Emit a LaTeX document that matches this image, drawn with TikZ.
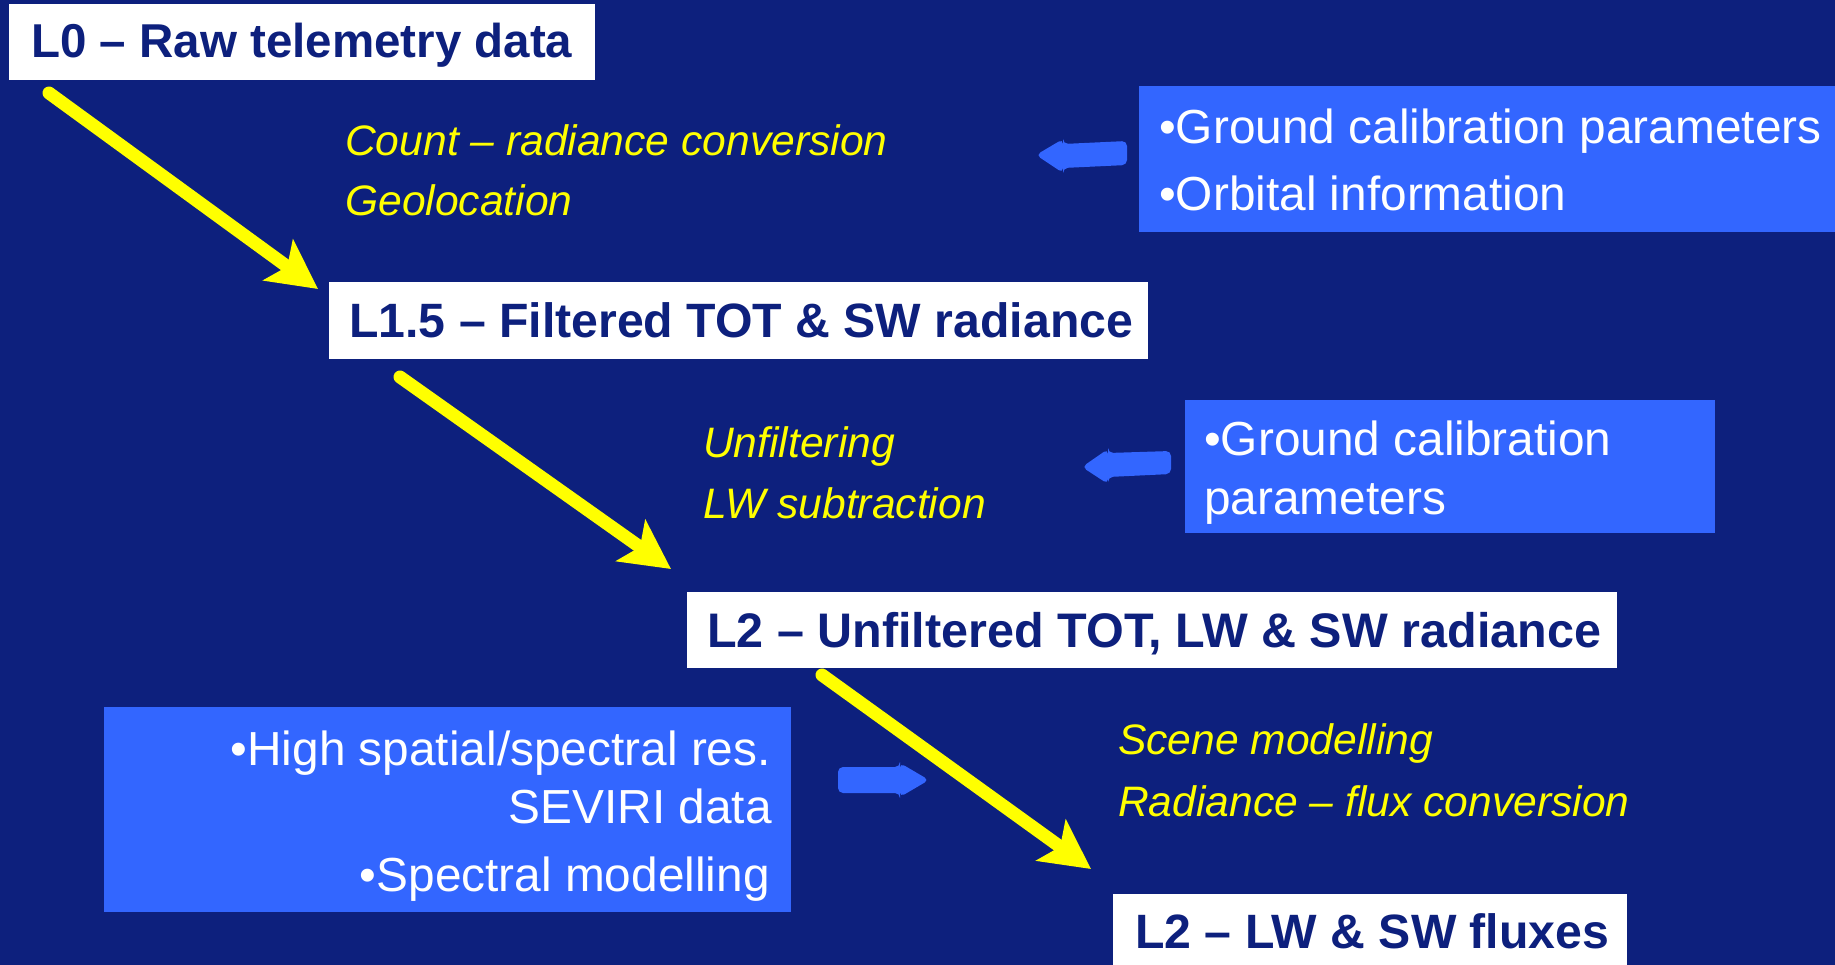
\documentclass[tikz,border=0pt]{standalone}
\usepackage{fontspec}
\setmainfont{Liberation Sans}
\usetikzlibrary{arrows.meta}
\definecolor{navy}{HTML}{0D207D}
\definecolor{lblue}{HTML}{3366FF}
\definecolor{yel}{HTML}{FFFF00}
\begin{document}
\begin{tikzpicture}[x=1pt,y=-1pt,
 wbox/.style={fill=white, inner sep=0pt, anchor=north west},
 bbox/.style={fill=lblue, inner sep=0pt, anchor=north west},
 title/.style={text=navy, font=\fontsize{48.2}{57}\selectfont\bfseries, inner sep=0pt, anchor=base west},
 wtext/.style={text=white, font=\fontsize{47.8}{57}\selectfont, inner sep=0pt},
 ytext/.style={text=yel, font=\fontsize{42.6}{50}\selectfont\itshape, inner sep=0pt, anchor=base west},
 yarrow/.style={draw=yel, line width=13pt, line cap=round, -{Stealth[length=49pt,width=50pt,inset=11pt]}},
 barrow/.style={fill=lblue, rounded corners=5pt}]
\fill[navy] (0,0) rectangle (1835,965);
\useasboundingbox (0,0) rectangle (1835,965);

% white level boxes
\node[wbox, minimum width=586pt, minimum height=76pt] (L0) at (9,4) {};
\node[wbox, minimum width=819pt, minimum height=77pt] (L15) at (329,282) {};
\node[wbox, minimum width=930pt, minimum height=76pt] (L2u) at (687,592) {};
\node[wbox, minimum width=514pt, minimum height=71pt] (L2f) at (1113,894) {};

\node[title, font=\fontsize{47.5}{57}\selectfont\bfseries] (L0t) at (31,58) {L0 – Raw telemetry data};
\node[title] (L15t) at (349,337.5) {L1.5 – Filtered TOT \& SW radiance};
\node[title, font=\fontsize{48.5}{57}\selectfont\bfseries] (L2ut) at (707,647) {L2 – Unfiltered TOT, LW \& SW radiance};
\node[title] (L2ft) at (1135,948) {L2 – LW \& SW fluxes};

% blue input boxes
\node[bbox, minimum width=696pt, minimum height=146pt] (A) at (1139,86) {};
\node[bbox, minimum width=530pt, minimum height=133pt] (B) at (1185,400) {};
\node[bbox, minimum width=687pt, minimum height=205pt] (C) at (104,707) {};

\node[wtext, anchor=base west] (A1) at (1159,144) {•Ground calibration parameters};
\node[wtext, anchor=base west] (A2) at (1159,211) {•Orbital information};
\node[wtext, anchor=base west] (B1) at (1204,455) {•Ground calibration};
\node[wtext, anchor=base west] (B2) at (1204,514) {parameters};
\node[wtext, anchor=base east] (C1) at (771,765) {•High spatial/spectral res.};
\node[wtext, anchor=base east] (C2) at (772,823) {SEVIRI data};
\node[wtext, anchor=base east] (C3) at (770,891) {•Spectral modelling};

% yellow process labels
\node[ytext] (Y1) at (345,155.5) {Count – radiance conversion};
\node[ytext] (Y2) at (345,215.5) {Geolocation};
\node[ytext] (Y3) at (703,457.5) {Unfiltering};
\node[ytext] (Y4) at (703,518.5) {LW subtraction};
\node[ytext] (Y5) at (1118,754.5) {Scene modelling};
\node[ytext] (Y6) at (1118,816.5) {Radiance – flux conversion};

% yellow flow arrows
\coordinate (a1s) at (49,93);
\coordinate (a1e) at (318,289);
\coordinate (a2s) at (400,377);
\coordinate (a2e) at (671,569);
\coordinate (a3s) at (822,675);
\coordinate (a3e) at (1091,869);
\draw[yarrow] (a1s) -- (a1e);
\draw[yarrow] (a2s) -- (a2e);
\draw[yarrow] (a3s) -- (a3e);

% blue block arrows
\fill[barrow] (1036,155) -- (1063,139) -- (1063,144) -- (1127,141) -- (1127,165) -- (1063,168) -- (1063,173) -- cycle;
\fill[barrow] (1082,467) -- (1108,449) -- (1108,453) -- (1171,451) -- (1171,474) -- (1108,477) -- (1108,484) -- cycle;
\fill[barrow] (929,780) -- (900,763) -- (900,767) -- (838,767) -- (838,793) -- (900,793) -- (900,797) -- cycle;
\end{tikzpicture}
\end{document}
